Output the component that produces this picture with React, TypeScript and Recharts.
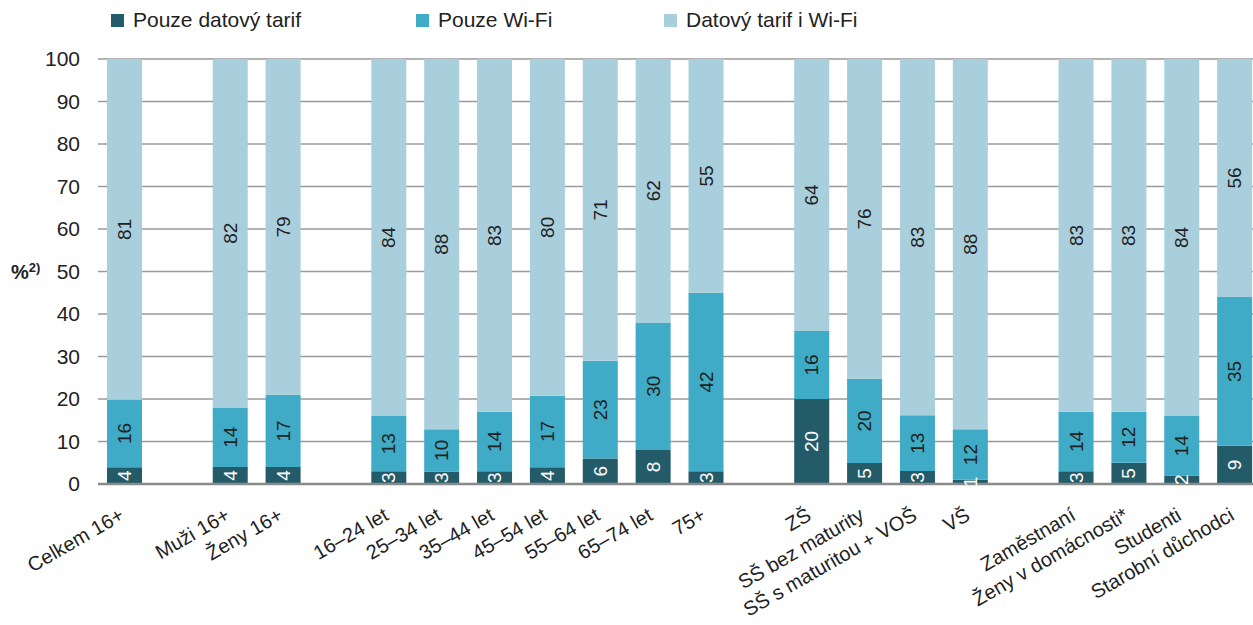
import React from 'react';
import { BarChart, Bar, XAxis, YAxis, CartesianGrid, Legend, LabelList } from 'recharts';

// categories; empty strings are the gaps between groups
const categories = [
  'Celkem 16+', '',
  'Muži 16+', 'Ženy 16+', '',
  '16–24 let', '25–34 let', '35–44 let', '45–54 let', '55–64 let', '65–74 let', '75+', '',
  'ZŠ', 'SŠ bez maturity', 'SŠ s maturitou + VOŠ', 'VŠ', '',
  'Zaměstnaní', 'Ženy v domácnosti*', 'Studenti', 'Starobní důchodci',
];

const dataOnly = [4, null, 4, 4, null, 3, 3, 3, 4, 6, 8, 3, null, 20, 5, 3, 1, null, 3, 5, 2, 9];
const wifiOnly = [16, null, 14, 17, null, 13, 10, 14, 17, 23, 30, 42, null, 16, 20, 13, 12, null, 14, 12, 14, 35];
const both = [81, null, 82, 79, null, 84, 88, 83, 80, 71, 62, 55, null, 64, 76, 83, 88, null, 83, 83, 84, 56];

const yTicks = [0, 10, 20, 30, 40, 50, 60, 70, 80, 90, 100];

const seriesNames = ['Pouze datový tarif', 'Pouze Wi-Fi', 'Datový tarif i Wi-Fi'];
const colors = ['#245b69', '#3fabc6', '#a9cfdc'];

const data = categories.map((name, i) => ({
  id: i,
  name,
  dark: dataOnly[i],
  mid: wifiOnly[i],
  light: both[i],
}));

const FONT = '"Liberation Sans", Arial, sans-serif';

const makeLabel = (fill: string) => (props: any) => {
  const { x, y, width, height, value } = props;
  if (value == null) return null;
  const cx = x + width / 2;
  const cy = y + height / 2;
  return (
    <text
      x={cx}
      y={cy}
      fill={fill}
      fontSize={19}
      fontFamily={FONT}
      textAnchor="middle"
      dominantBaseline="central"
      transform={`rotate(-90, ${cx}, ${cy})`}
    >
      {value}
    </text>
  );
};

const XTick = (props: any) => {
  const { x, y, payload } = props;
  const label = categories[payload.value];
  if (!label) return null;
  return (
    <g transform={`translate(${x + 1},${y + 27})`}>
      <text x={0} y={0} textAnchor="end" fill="#222" fontSize={20} fontFamily={FONT} transform="rotate(-30)">
        {label}
      </text>
    </g>
  );
};

// "%" with superscript footnote mark
const UnitLabel = (props: any) => {
  const vb = props.viewBox || { x: 0, y: 59, height: 425 };
  const cy = vb.y + vb.height / 2;
  return (
    <text x={11} y={cy + 7} fill="#222" fontFamily={FONT} fontWeight="bold">
      <tspan fontSize={20}>%</tspan>
      <tspan fontSize={13} dy={-7}>2)</tspan>
    </text>
  );
};

const LegendContent = () => {
  const xs = [111, 416, 664];
  return (
    <div style={{ position: 'relative', height: 30, fontFamily: FONT, fontSize: 21, color: '#222' }}>
      {seriesNames.map((n, i) => (
        <div key={n} style={{ position: 'absolute', left: xs[i], top: 0, display: 'flex', alignItems: 'center', whiteSpace: 'nowrap' }}>
          <span style={{ display: 'inline-block', width: 13, height: 13, background: colors[i], marginRight: 9 }} />
          {n}
        </div>
      ))}
    </div>
  );
};

export default function App() {
  return (
    <div style={{ position: 'absolute', left: 0, top: 0, width: 1253, height: 625, overflow: 'hidden', background: '#fff' }}>
      <BarChart
        width={1270}
        height={625}
        data={data}
        stackOffset="expand"
        margin={{ top: 29, right: 9, bottom: 0, left: 0 }}
        barSize={35}
      >
        <CartesianGrid horizontal vertical={false} stroke="#9a9a9a" strokeWidth={1.5} />
        <XAxis
          dataKey="id"
          type="category"
          height={141}
          interval={0}
          tick={<XTick />}
          tickLine={false}
          axisLine={{ stroke: '#8a8a8a', strokeWidth: 2.5 }}
        />
        <YAxis
          width={98}
          domain={[0, 1]}
          ticks={yTicks.map((t) => t / 100)}
          tickFormatter={(v: number) => String(Math.round(v * 100))}
          axisLine={false}
          tickLine={false}
          tickSize={8}
          tickMargin={10}
          tick={{ fill: '#222', fontSize: 21, fontFamily: FONT }}
          label={<UnitLabel />}
        />
        <Legend verticalAlign="top" content={<LegendContent />} wrapperStyle={{ top: 8, left: 0, width: 1253 }} />
        <Bar dataKey="dark" name={seriesNames[0]} stackId="a" fill={colors[0]} isAnimationActive={false}>
          <LabelList dataKey="dark" content={makeLabel('#ffffff')} />
        </Bar>
        <Bar dataKey="mid" name={seriesNames[1]} stackId="a" fill={colors[1]} isAnimationActive={false}>
          <LabelList dataKey="mid" content={makeLabel('#222')} />
        </Bar>
        <Bar dataKey="light" name={seriesNames[2]} stackId="a" fill={colors[2]} isAnimationActive={false}>
          <LabelList dataKey="light" content={makeLabel('#222')} />
        </Bar>
      </BarChart>
    </div>
  );
}
